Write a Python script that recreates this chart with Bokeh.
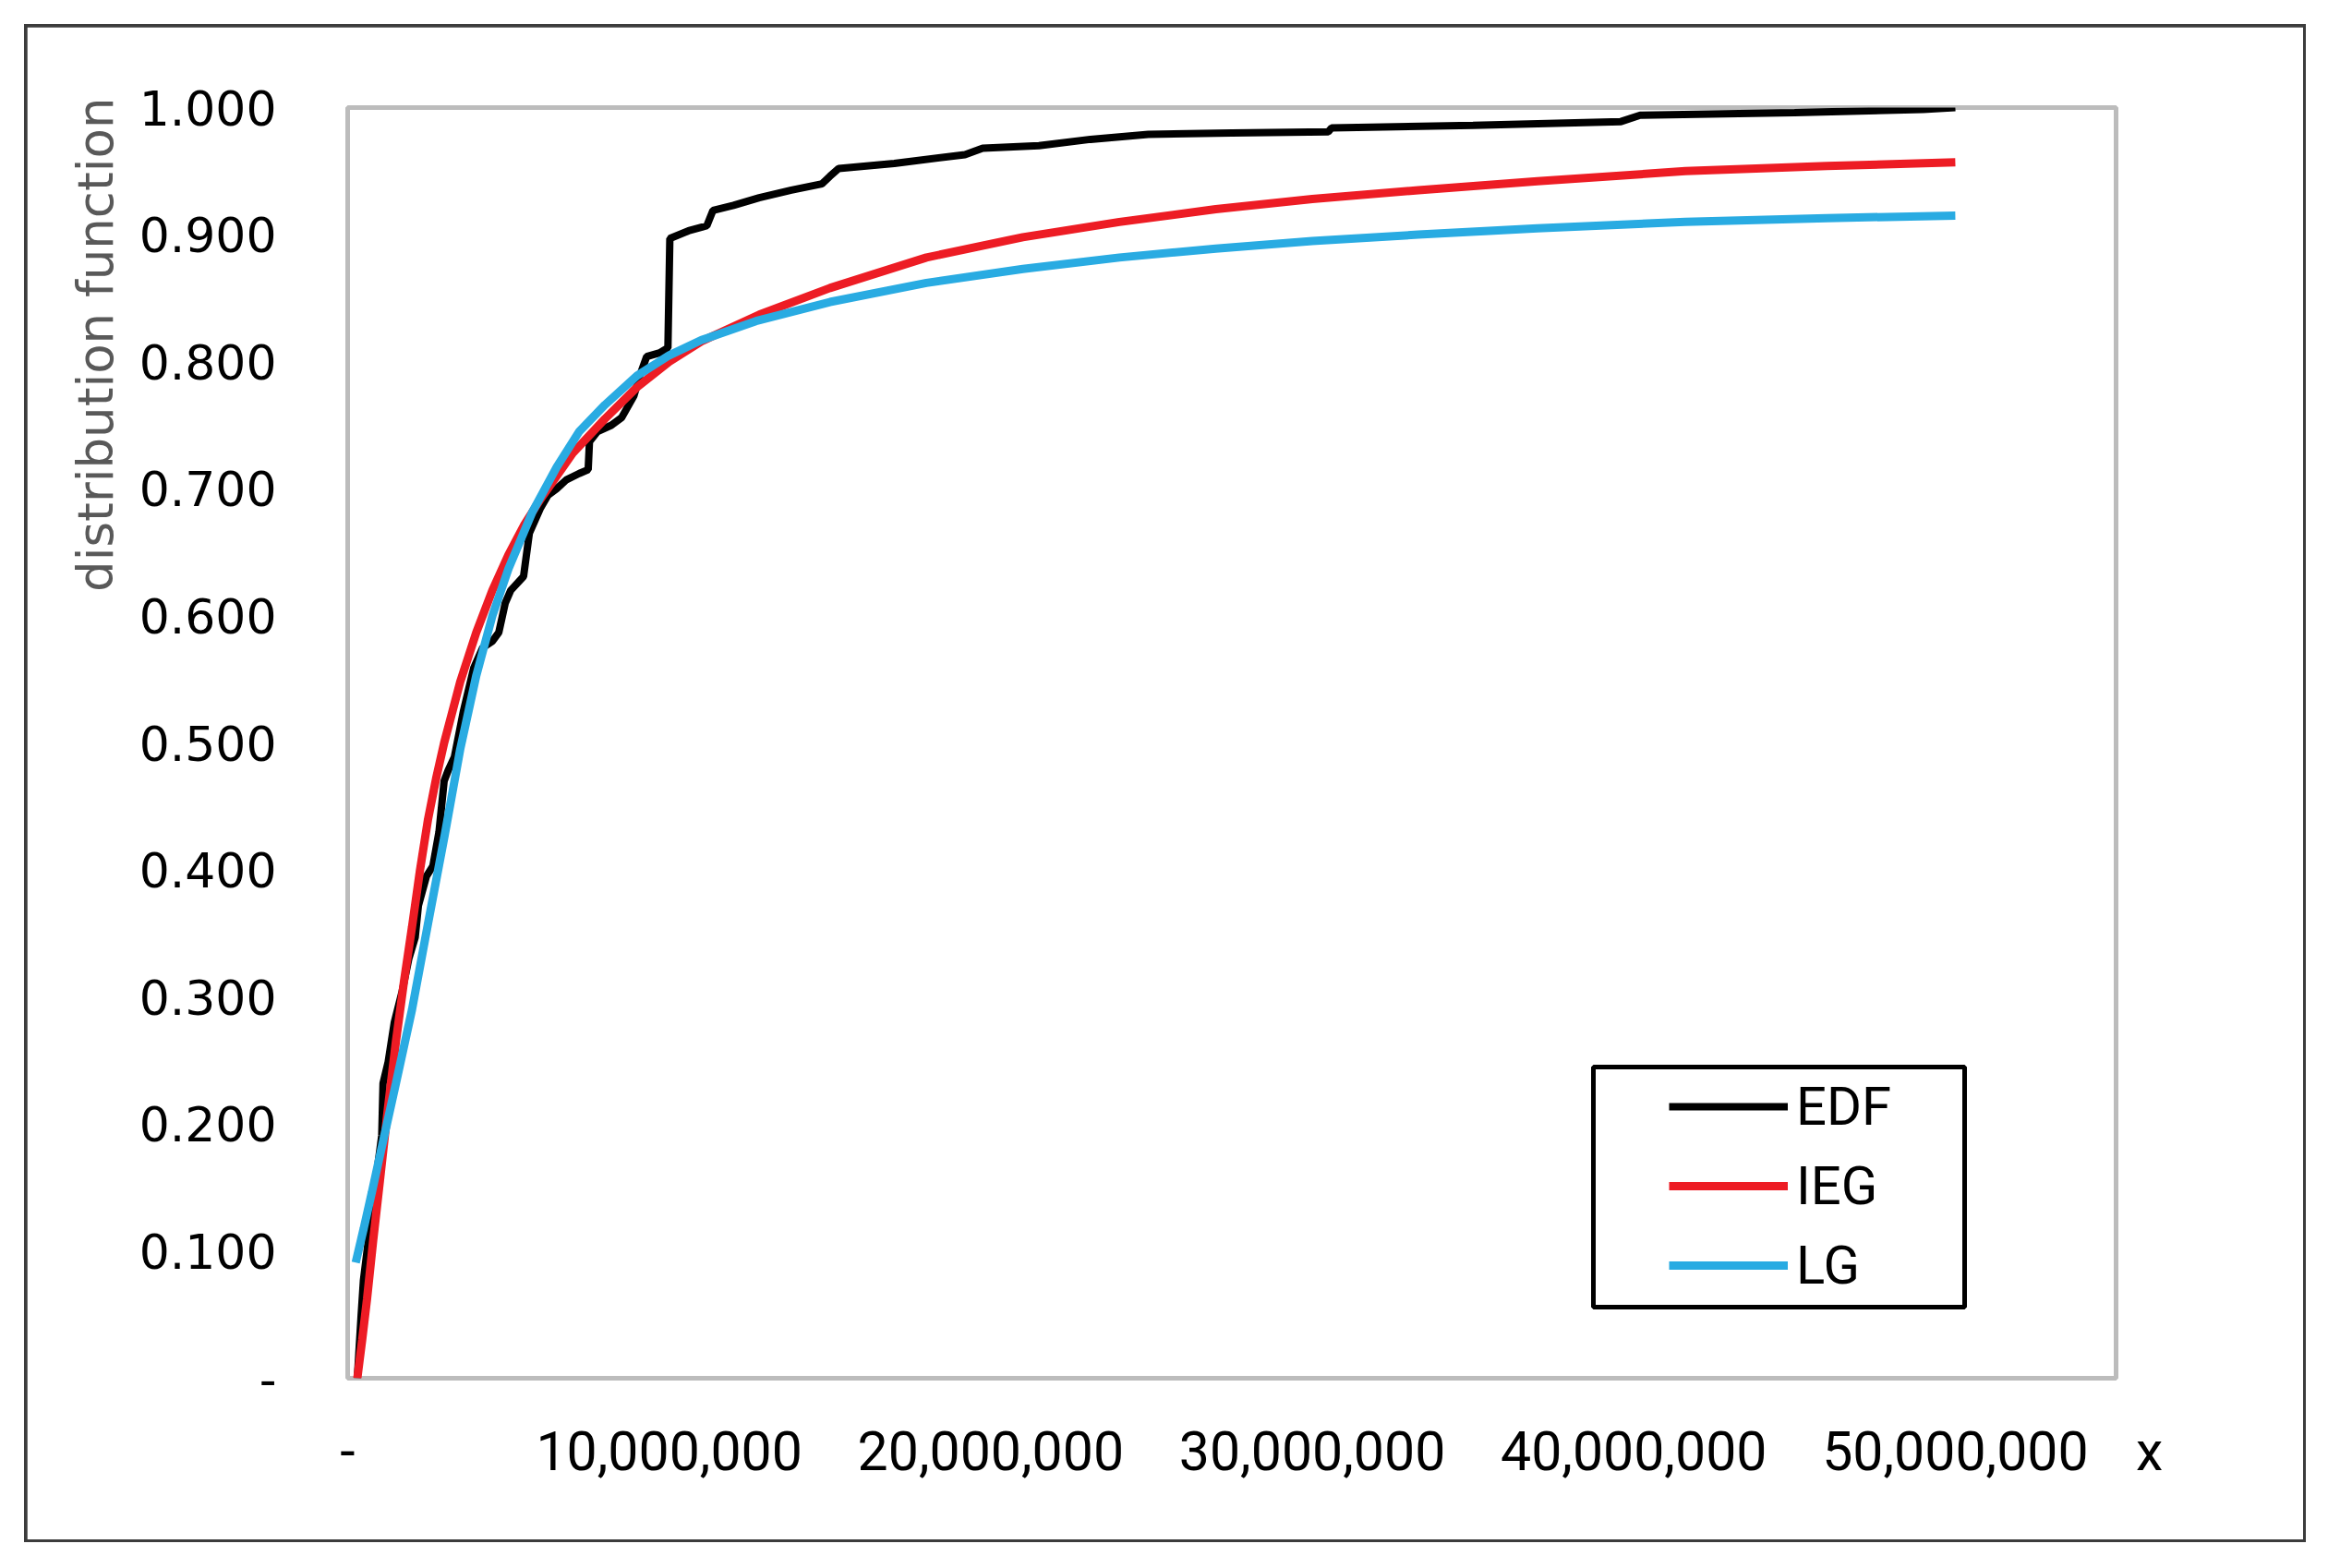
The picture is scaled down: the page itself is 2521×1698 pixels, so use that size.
#!/usr/bin/env python3
"""Empirical distribution function of claim sizes against two fitted models
(IEG and LG), drawn the way the Excel original looks."""
from bokeh.embed import file_html
from bokeh.models import (BoxAnnotation, FixedTicker, Legend, LegendItem,
                          NumeralTickFormatter, Range1d, Title)
from bokeh.plotting import figure
from bokeh.resources import INLINE

# x values are in millions
EDF_X = [0.30, 0.42, 0.49, 0.65, 0.80, 0.95, 1.06, 1.10, 1.26, 1.45, 1.70, 1.90,
         2.10, 2.20, 2.45, 2.65, 2.84, 3.00, 3.12, 3.32, 3.60, 3.92, 4.20, 4.50,
         4.70, 4.90, 5.07, 5.47, 5.65, 6.00, 6.23, 6.50, 6.80, 7.20, 7.48, 7.52,
         7.77, 8.20, 8.52, 8.90, 9.10, 9.30, 9.70, 9.96, 10.02, 10.60, 11.17,
         11.36, 12.00, 12.80, 13.80, 14.75, 15.00, 15.27, 17.00, 19.20, 19.75,
         21.50, 23.10, 24.90, 27.50, 30.50, 30.60, 35.00, 39.60, 40.20, 45.00,
         49.00, 50.00]
EDF_Y = [0.000, 0.050, 0.077, 0.110, 0.140, 0.170, 0.191, 0.232, 0.249, 0.280,
         0.305, 0.330, 0.347, 0.372, 0.395, 0.403, 0.430, 0.470, 0.478, 0.489,
         0.525, 0.559, 0.575, 0.580, 0.587, 0.610, 0.620, 0.631, 0.665, 0.685,
         0.695, 0.700, 0.707, 0.712, 0.715, 0.737, 0.745, 0.750, 0.756, 0.773,
         0.790, 0.804, 0.807, 0.811, 0.897, 0.903, 0.907, 0.919, 0.923, 0.929,
         0.935, 0.940, 0.946, 0.952, 0.956, 0.963, 0.968, 0.970, 0.975, 0.979,
         0.980, 0.981, 0.984, 0.986, 0.989, 0.994, 0.996, 0.9985, 1.000]

IEG_X = [0.30, 0.45, 0.60, 0.80, 1.00, 1.25, 1.50, 1.75, 2.00, 2.25, 2.50, 2.75,
         3.00, 3.50, 4.00, 4.50, 5.00, 5.50, 6.00, 7.00, 8.00, 9.00, 10.00, 11.00,
         12.80, 15.00, 18.00, 21.00, 24.00, 27.00, 30.00, 33.30, 37.00, 41.60,
         46.00, 50.00]
IEG_Y = [0.000, 0.030, 0.062, 0.110, 0.155, 0.212, 0.265, 0.312, 0.355, 0.400,
         0.440, 0.472, 0.500, 0.548, 0.587, 0.620, 0.648, 0.672, 0.692, 0.728,
         0.755, 0.780, 0.800, 0.816, 0.837, 0.858, 0.882, 0.898, 0.910, 0.920,
         0.928, 0.935, 0.942, 0.950, 0.954, 0.957]

LG_X = [0.25, 0.50, 0.75, 1.00, 1.50, 2.00, 2.50, 3.00, 3.50, 4.00, 4.50, 5.00,
        5.75, 6.50, 7.20, 8.00, 9.00, 10.00, 11.00, 12.70, 15.00, 18.00, 21.00,
        24.00, 27.00, 30.00, 33.30, 37.00, 41.60, 46.00, 50.00]
LG_Y = [0.091, 0.118, 0.146, 0.175, 0.232, 0.290, 0.358, 0.425, 0.495, 0.553,
        0.600, 0.637, 0.682, 0.717, 0.745, 0.766, 0.789, 0.805, 0.817, 0.832,
        0.847, 0.862, 0.873, 0.882, 0.889, 0.895, 0.900, 0.905, 0.910, 0.913,
        0.915]

X_TICKS = [0, 10_000_000, 20_000_000, 30_000_000, 40_000_000, 50_000_000]
X_TICK_LABELS = {0: "-"}
# the lone "x" that Excel puts at the right end of the category axis
X_NAME_TICK = 54_990_000
Y_TICKS = [0.0, 0.1, 0.2, 0.3, 0.4, 0.5, 0.6, 0.7, 0.8, 0.9, 1.0]
X_MAX = 55_000_000

# page layout in pixels: outer box, then the plot box inside it
OUTER_L, OUTER_T, OUTER_W, OUTER_H = 29, 29, 2465, 1638
FRAME_L, FRAME_T, FRAME_W, FRAME_H = 376, 116, 1915, 1376


def to_data(px, py):
    """Page pixel -> data coordinates, for the legend frame."""
    return ((px - FRAME_L) / FRAME_W * X_MAX,
            (FRAME_T + FRAME_H - py) / FRAME_H)


p = figure(
    frame_width=FRAME_W, frame_height=FRAME_H,
    min_border_left=FRAME_L - OUTER_L, min_border_top=FRAME_T - OUTER_T,
    min_border_right=OUTER_L + OUTER_W - FRAME_L - FRAME_W,
    min_border_bottom=OUTER_T + OUTER_H - FRAME_T - FRAME_H,
    x_range=Range1d(0, X_MAX), y_range=Range1d(0, 1),
    output_backend="svg", toolbar_location=None,
)
p.margin = (OUTER_T, 0, 0, OUTER_L)
p.styles = {"outline": "6px solid #3c3c3c", "outline-offset": "-3px"}
p.grid.visible = False
p.outline_line_color = "#bcbcbc"
p.outline_line_width = 5

for ax in (p.xaxis[0], p.yaxis[0]):
    ax.axis_line_color = None
    ax.major_tick_line_color = None
    ax.minor_tick_line_color = None
    ax.major_tick_out = 0
    ax.major_tick_in = 0
    ax.major_label_text_color = "black"

p.xaxis.ticker = FixedTicker(ticks=X_TICKS + [X_NAME_TICK])
p.xaxis.formatter = NumeralTickFormatter(format="0,0")
p.xaxis.major_label_overrides = {**X_TICK_LABELS, X_NAME_TICK: "\u00a0" * 5 + "x"}
p.xaxis.major_label_text_font = "Roboto"
p.xaxis.major_label_text_font_size = "59px"
p.xaxis.major_label_standoff = 44

p.yaxis.ticker = FixedTicker(ticks=Y_TICKS)
p.yaxis.formatter = NumeralTickFormatter(format="0.000")
p.yaxis.major_label_overrides = {0: "-"}
p.yaxis.major_label_text_font = "DejaVu Sans"
p.yaxis.major_label_text_font_size = "52px"
p.yaxis.major_label_standoff = 77

p.add_layout(Title(text="distribution function", align="right", offset=-11,
                   standoff=28, text_font="DejaVu Sans", text_font_size="53px",
                   text_font_style="normal", text_color="#595959"), "left")

r_edf = p.line([v * 1e6 for v in EDF_X], EDF_Y, color="black", line_width=8)
r_ieg = p.line([v * 1e6 for v in IEG_X], IEG_Y, color="#ed1c24", line_width=9)
r_lg = p.line([v * 1e6 for v in LG_X], LG_Y, color="#29abe2", line_width=9)

# legend frame, then the legend itself on top of it
lx0, ly0 = to_data(1725, 1155)
lx1, ly1 = to_data(2127, 1415)
p.add_layout(BoxAnnotation(left=lx0, right=lx1, top=ly0, bottom=ly1,
                           fill_color="white", fill_alpha=1,
                           line_color="black", line_alpha=1, line_width=5))

legend = Legend(
    items=[LegendItem(label="EDF", renderers=[r_edf]),
           LegendItem(label="IEG", renderers=[r_ieg]),
           LegendItem(label="LG", renderers=[r_lg])],
    location=(1431, 87), padding=0, margin=0, spacing=16,
    glyph_width=129, glyph_height=70, label_height=70, label_standoff=9,
    label_text_font="Roboto", label_text_font_size="58px",
    label_text_color="black", border_line_alpha=0, background_fill_alpha=0,
)
p.add_layout(legend)

open("out.html", "w").write(file_html(p, INLINE))
